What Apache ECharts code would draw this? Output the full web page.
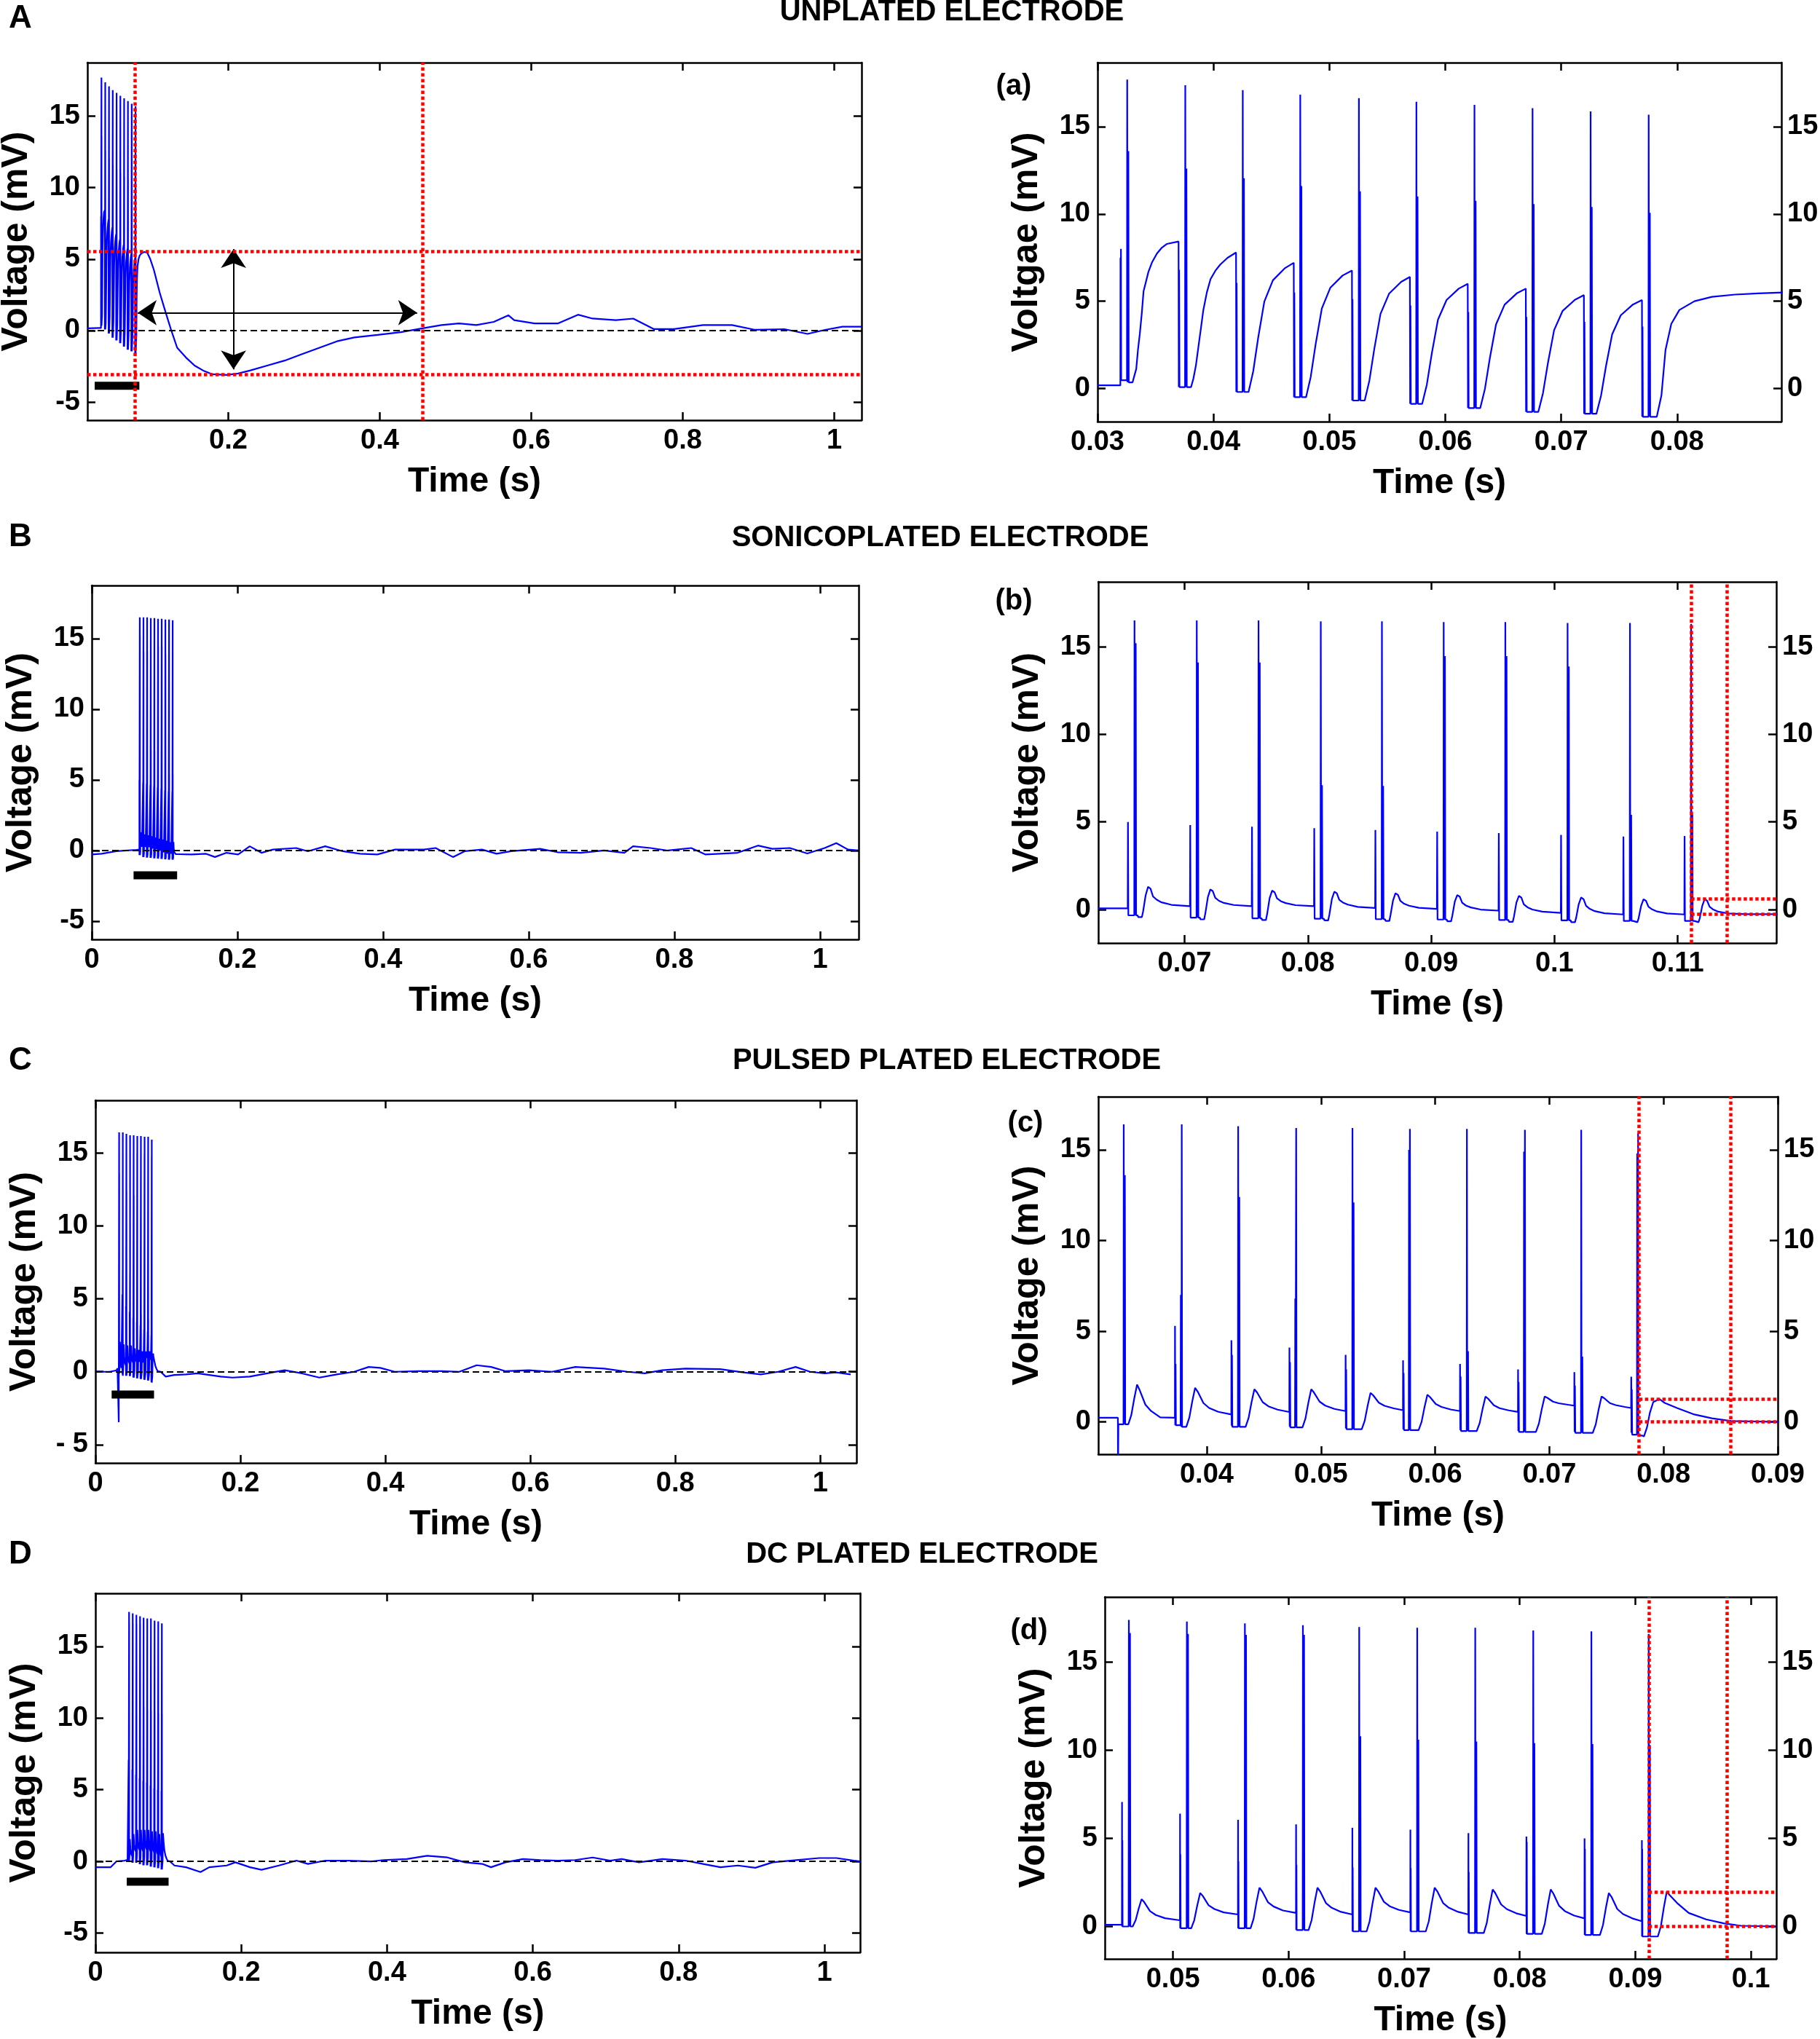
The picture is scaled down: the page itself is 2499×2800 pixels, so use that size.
<!DOCTYPE html>
<html>
<head>
<meta charset="utf-8">
<title>Electrode recordings</title>
<script src="https://cdn.jsdelivr.net/npm/echarts@6.0.0/dist/echarts.min.js"></script>
<style>
  html, body { margin: 0; padding: 0; background: #fff; }
  #chart { width: 2499px; height: 2800px; }
</style>
</head>
<body>
<div id="chart"></div>
<script>
// values: [time (s), voltage (mV)]

// --- unplated electrode ---
var preA = [[0.014, 0.16]];
var burstA = [
  [0.0300,0.18],[0.03197,0.18],[0.03198,7.5],[0.032,0.47],[0.03202,8.0],[0.03204,0.47],[0.03254,0.47],[0.03256,17.7],[0.03259,0.35],[0.03266,13.6],[0.03269,0.35],[0.03302,0.35],[0.03334,1.12],[0.03349,2.23],[0.03365,3.14],[0.03382,4.32],[0.03397,5.57],[0.03439,6.68],[0.03471,7.24],[0.03512,7.73],[0.03555,8.07],[0.03597,8.28],[0.03699,8.42],
  [0.03701,0.08],[0.03704,6.8],[0.03707,0.08],[0.03755,0.08],[0.03757,17.38],[0.0376,0.08],[0.03767,12.6],[0.0377,0.08],[0.03807,0.08],[0.03827,0.56],[0.03849,1.33],[0.0387,2.37],[0.0389,3.35],[0.03912,4.46],[0.03943,5.5],[0.03975,6.27],[0.04017,6.75],[0.04059,7.1],[0.04122,7.49],[0.04195,7.79],
  [0.04197,-0.2],[0.042,6.05],[0.04203,-0.2],[0.04251,-0.2],[0.04253,17.09],[0.04256,-0.2],[0.04263,12.05],[0.04266,-0.2],[0.04303,-0.2],[0.04343,0.98],[0.04386,2.91],[0.04439,4.98],[0.04513,6.2],[0.04618,6.9],[0.04693,7.2],
  [0.04695,-0.5],[0.04698,5.5],[0.04701,-0.5],[0.04747,-0.5],[0.04749,16.83],[0.04752,-0.5],[0.04759,11.6],[0.04762,-0.5],[0.04799,-0.5],[0.04839,0.66],[0.04882,2.55],[0.04935,4.58],[0.05009,5.78],[0.05114,6.47],[0.05195,6.76],
  [0.05197,-0.69],[0.052,5.12],[0.05203,-0.69],[0.05253,-0.69],[0.05255,16.64],[0.05258,-0.69],[0.05265,11.3],[0.05268,-0.69],[0.05305,-0.69],[0.05345,0.44],[0.05388,2.28],[0.05441,4.27],[0.05515,5.43],[0.0562,6.11],[0.05695,6.39],
  [0.05697,-0.88],[0.057,4.75],[0.05703,-0.88],[0.05749,-0.88],[0.05751,16.43],[0.05754,-0.88],[0.05761,11.0],[0.05764,-0.88],[0.05801,-0.88],[0.05841,0.22],[0.05884,2.01],[0.05937,3.94],[0.06011,5.07],[0.06116,5.72],[0.06194,6.0],
  [0.06196,-1.12],[0.06199,4.38],[0.06202,-1.12],[0.0625,-1.12],[0.06252,16.25],[0.06255,-1.12],[0.06262,10.75],[0.06265,-1.12],[0.06302,-1.12],[0.06342,-0.03],[0.06385,1.75],[0.06438,3.67],[0.06512,4.8],[0.06617,5.45],[0.06695,5.72],
  [0.06697,-1.34],[0.067,4.1],[0.06703,-1.34],[0.06751,-1.34],[0.06753,16.06],[0.06756,-1.34],[0.06763,10.56],[0.06766,-1.34],[0.06803,-1.34],[0.06843,-0.27],[0.06886,1.47],[0.06939,3.34],[0.07013,4.45],[0.07118,5.08],[0.07196,5.35],
  [0.07198,-1.45],[0.07201,3.82],[0.07204,-1.45],[0.07252,-1.45],[0.07254,15.87],[0.07257,-1.45],[0.07264,10.4],[0.07267,-1.45],[0.07304,-1.45],[0.07344,-0.41],[0.07387,1.29],[0.0744,3.11],[0.07514,4.19],[0.07619,4.81],[0.07697,5.07],
  [0.07699,-1.62],[0.07702,3.54],[0.07705,-1.62],[0.07753,-1.62],[0.07755,15.69],[0.07758,-1.62],[0.07765,10.06],[0.07768,-1.62],[0.07825,-1.62],[0.07865,-0.4],[0.079,2.2],[0.0795,3.7],[0.0802,4.5],[0.0815,5.0],[0.083,5.25],[0.085,5.38],[0.087,5.45],[0.0892,5.5]
];
var tailA = [
  [0.093,5.45],[0.097,5.0],[0.1018,4.24],[0.1095,2.65],[0.1172,1.29],[0.1248,0],[0.1325,-1.2],[0.144,-1.88],[0.1555,-2.45],[0.167,-2.8],[0.1785,-3.05],[0.1977,-3.1],[0.213,-3.0],[0.2284,-2.8],[0.2514,-2.45],[0.2744,-2.1],[0.2974,-1.65],[0.3204,-1.2],[0.3434,-0.75],[0.3664,-0.48],[0.3971,-0.3],[0.4278,-0.11],[0.4562,0.16],[0.4815,0.39],[0.5045,0.5],[0.5275,0.39],[0.5505,0.61],[0.5697,1.07],[0.5774,0.73],[0.6042,0.5],[0.6349,0.5],[0.6617,1.11],[0.6809,0.84],[0.7116,0.73],[0.7346,0.84],[0.7615,0.11],[0.7883,0.11],[0.8267,0.39],[0.865,0.39],[0.8957,0.05],[0.934,0.1],[0.9647,-0.23],[0.9877,0.05],[1.0107,0.27],[1.036,0.27]
];
var barA = [[0.0236,-3.86],[0.0826,-3.86]];
var redVA = [0.0765, 0.4562];
var redHA = [5.55, -3.08];
var arrowsA = [[[0.0804,1.25],[0.4493,1.25]], [[0.2069,5.7],[0.2069,-2.72]]];

// --- sonicoplated electrode ---
var preB = [[0,-0.28],[0.0136,-0.23],[0.0335,-0.05],[0.0614,0.05]];
var burstB = [
  [0.063,0.07],[0.06539,0.07],[0.06541,5.0],[0.06544,-0.33],[0.06592,-0.33],[0.06594,16.5],[0.06597,-0.33],[0.06604,15.2],[0.06607,-0.33],[0.06619,-0.33],[0.06624,-0.43],[0.06654,-0.43],[0.06664,-0.1],[0.06684,0.8],[0.06704,1.3],[0.06724,1.19],[0.06744,0.75],[0.06774,0.56],[0.06814,0.41],[0.06894,0.27],[0.07044,0.19],
  [0.07046,4.82],[0.07049,-0.46],[0.07097,-0.46],[0.07099,16.5],[0.07102,-0.46],[0.07109,14.1],[0.07112,-0.46],[0.07124,-0.46],[0.07129,-0.56],[0.07159,-0.56],[0.07169,-0.2],[0.07189,0.7],[0.07209,1.15],[0.07229,1.05],[0.07249,0.67],[0.07279,0.5],[0.07319,0.38],[0.07399,0.26],[0.07545,0.19],
  [0.07547,4.73],[0.0755,-0.5],[0.07598,-0.5],[0.076,16.5],[0.07603,-0.5],[0.0761,14.1],[0.07613,-0.5],[0.07625,-0.5],[0.0763,-0.6],[0.0766,-0.6],[0.0767,-0.25],[0.0769,0.65],[0.0771,1.08],[0.0773,0.99],[0.0775,0.64],[0.0778,0.48],[0.0782,0.37],[0.079,0.25],[0.0805,0.19],
  [0.08052,4.64],[0.08055,-0.52],[0.08103,-0.52],[0.08105,16.45],[0.08108,-0.52],[0.08115,7.1],[0.08118,-0.52],[0.0813,-0.52],[0.08135,-0.62],[0.08165,-0.62],[0.08175,-0.28],[0.08195,0.6],[0.08215,1.02],[0.08235,0.93],[0.08255,0.56],[0.08285,0.4],[0.08325,0.28],[0.08405,0.15],[0.08546,0.09],
  [0.08548,4.54],[0.08551,-0.55],[0.08599,-0.55],[0.08601,16.45],[0.08604,-0.55],[0.08611,7.05],[0.08614,-0.55],[0.08626,-0.55],[0.08631,-0.65],[0.08661,-0.65],[0.08671,-0.3],[0.08691,0.52],[0.08711,0.93],[0.08731,0.84],[0.08751,0.49],[0.08781,0.33],[0.08821,0.22],[0.08901,0.1],[0.09047,0.04],
  [0.09049,4.45],[0.09052,-0.57],[0.091,-0.57],[0.09102,16.4],[0.09105,-0.57],[0.09112,14.46],[0.09115,-0.57],[0.09127,-0.57],[0.09132,-0.67],[0.09162,-0.67],[0.09172,-0.35],[0.09192,0.45],[0.09212,0.83],[0.09232,0.74],[0.09252,0.39],[0.09282,0.23],[0.09322,0.12],[0.09402,0.0],[0.09547,-0.06],
  [0.09549,4.36],[0.09552,-0.6],[0.096,-0.6],[0.09602,16.4],[0.09605,-0.6],[0.09612,14.46],[0.09615,-0.6],[0.09627,-0.6],[0.09632,-0.7],[0.09662,-0.7],[0.09672,-0.4],[0.09692,0.4],[0.09712,0.78],[0.09732,0.68],[0.09752,0.3],[0.09782,0.13],[0.09822,0.0],[0.09902,-0.12],[0.10052,-0.19],
  [0.10054,4.26],[0.10057,-0.62],[0.10105,-0.62],[0.10107,16.35],[0.1011,-0.62],[0.10117,13.87],[0.1012,-0.62],[0.10132,-0.62],[0.10137,-0.72],[0.10167,-0.72],[0.10177,-0.45],[0.10197,0.3],[0.10217,0.69],[0.10237,0.59],[0.10257,0.21],[0.10287,0.04],[0.10327,-0.09],[0.10407,-0.21],[0.10558,-0.28],
  [0.1056,4.17],[0.10563,-0.65],[0.10611,-0.65],[0.10613,16.35],[0.10616,-0.65],[0.10623,5.4],[0.10626,-0.65],[0.10638,-0.65],[0.10643,-0.72],[0.10673,-0.72],[0.10683,-0.5],[0.10703,0.2],[0.10723,0.59],[0.10743,0.5],[0.10763,0.16],[0.10793,0.01],[0.10833,-0.11],[0.10913,-0.22],[0.11054,-0.28],
  [0.11056,4.2],[0.11059,-0.65],[0.11107,-0.65],[0.11109,16.3],[0.11112,-0.65],[0.11119,5.4],[0.11122,-0.65],[0.11134,-0.65],[0.11139,-0.72],[0.11169,-0.72],[0.11179,-0.5],[0.11199,0.2],[0.11219,0.6],[0.11239,0.5],[0.11259,0.16],[0.11289,0.0],[0.11329,-0.12],[0.11409,-0.22],[0.1155,-0.26],[0.1182,-0.26]
];
var tailB = [
  [0.1372,-0.28],[0.1571,-0.23],[0.1691,-0.46],[0.185,-0.16],[0.201,-0.28],[0.2169,0.3],[0.2329,-0.16],[0.2488,0.07],[0.2807,0.18],[0.2967,-0.05],[0.3206,0.3],[0.3445,-0.05],[0.3684,-0.23],[0.3923,-0.28],[0.4163,0.07],[0.4561,0.07],[0.4721,0.18],[0.496,-0.46],[0.512,-0.05],[0.5359,0.07],[0.5558,-0.23],[0.5758,-0.05],[0.6156,0.12],[0.6396,-0.12],[0.6715,-0.16],[0.7033,0.0],[0.7313,-0.16],[0.7432,0.3],[0.7671,0.18],[0.7911,0.0],[0.823,0.18],[0.8429,-0.28],[0.8868,-0.16],[0.9147,0.35],[0.9346,0.12],[0.9585,0.18],[0.9825,-0.21],[1.0064,0.18],[1.0223,0.53],[1.0383,0.07],[1.0526,0.0]
];
var barB = [[0.0574,-1.76],[0.1172,-1.76]];
var redVB = [0.1111, 0.1140];
var redHB = [0.63, -0.26];

// --- pulsed plated electrode ---
var preC = [[0,0.0],[0.02,0.0],[0.029,0.1]];
var burstC = [
  [0.0305,0.23],[0.03222,0.23],[0.03223,-3.45],[0.03226,-0.13],[0.03271,-0.13],[0.03273,16.4],[0.03276,-0.13],[0.03283,13.6],[0.03286,-0.13],[0.03313,-0.13],[0.03339,0.37],[0.03365,1.29],[0.0339,2.06],[0.03413,1.75],[0.03463,0.95],[0.03513,0.6],[0.03593,0.25],[0.03721,0.23],
  [0.03722,5.3],[0.03724,-0.18],[0.03727,3.2],[0.0373,-0.18],[0.03771,-0.18],[0.03773,7.0],[0.03776,-0.18],[0.03779,-0.27],[0.03781,16.4],[0.03784,-0.27],[0.03821,-0.27],[0.03847,0.23],[0.03873,1.13],[0.03898,1.88],[0.03921,1.67],[0.03971,1.04],[0.04021,0.77],[0.04101,0.56],[0.04215,0.41],
  [0.04216,4.5],[0.04218,-0.2],[0.04221,3.7],[0.04224,-0.27],[0.04273,-0.27],[0.04275,16.3],[0.04278,-0.27],[0.04285,12.4],[0.04288,-0.27],[0.0434,-0.27],[0.04366,0.21],[0.04392,1.08],[0.04417,1.8],[0.0444,1.63],[0.0449,1.09],[0.0454,0.86],[0.0462,0.68],[0.04723,0.55],
  [0.04724,4.1],[0.04726,-0.25],[0.04729,3.3],[0.04732,-0.3],[0.04773,-0.3],[0.04775,6.8],[0.04778,-0.3],[0.04781,-0.3],[0.04783,16.2],[0.04786,-0.3],[0.04838,-0.3],[0.04864,0.18],[0.0489,1.07],[0.04915,1.8],[0.04938,1.63],[0.04988,1.12],[0.05038,0.9],[0.05118,0.72],[0.05215,0.6],
  [0.05216,3.7],[0.05218,-0.35],[0.05221,2.9],[0.05224,-0.4],[0.05274,-0.4],[0.05276,16.2],[0.05279,-0.4],[0.05286,12.1],[0.05289,-0.4],[0.05357,-0.4],[0.05383,0.06],[0.05409,0.9],[0.05434,1.6],[0.05457,1.47],[0.05507,1.06],[0.05557,0.89],[0.05637,0.75],[0.05718,0.65],
  [0.05719,3.4],[0.05721,-0.4],[0.05724,2.7],[0.05727,-0.45],[0.05769,-0.45],[0.05771,15.0],[0.05774,-0.45],[0.05777,-0.45],[0.05779,16.15],[0.05782,-0.45],[0.05855,-0.45],[0.05881,0.0],[0.05907,0.82],[0.05932,1.5],[0.05955,1.37],[0.06005,0.99],[0.06055,0.83],[0.06135,0.69],[0.06217,0.6],
  [0.06218,3.2],[0.0622,-0.45],[0.06223,2.5],[0.06226,-0.5],[0.06276,-0.5],[0.06278,16.15],[0.06281,-0.5],[0.06288,3.9],[0.06291,-0.5],[0.06364,-0.5],[0.0639,-0.06],[0.06416,0.74],[0.06441,1.4],[0.06464,1.28],[0.06514,0.92],[0.06564,0.76],[0.06644,0.64],[0.06725,0.55],
  [0.06726,2.9],[0.06728,-0.5],[0.06731,2.2],[0.06734,-0.55],[0.06776,-0.55],[0.06778,14.9],[0.06781,-0.55],[0.06784,-0.55],[0.06786,16.1],[0.06789,-0.55],[0.06882,-0.55],[0.06908,-0.1],[0.06934,0.72],[0.06959,1.4],[0.06982,1.33],[0.07032,1.12],[0.07082,1.03],[0.07162,0.95],[0.07218,0.9],
  [0.07219,2.75],[0.07221,-0.55],[0.07224,2.0],[0.07227,-0.6],[0.07277,-0.6],[0.07279,16.1],[0.07282,-0.6],[0.07289,3.6],[0.07292,-0.6],[0.0738,-0.6],[0.07406,-0.14],[0.07432,0.7],[0.07457,1.4],[0.0748,1.31],[0.0753,1.04],[0.0758,0.93],[0.0766,0.83],[0.07716,0.77],
  [0.07717,2.5],[0.07719,-0.6],[0.07722,1.8],[0.07725,-0.7],[0.07767,-0.7],[0.07769,14.8],[0.07772,-0.7],[0.07775,-0.7],[0.07777,15.9],[0.0778,-0.75],[0.07815,-0.75],[0.07828,-0.8],[0.07855,-0.3],[0.0788,0.5],[0.0791,1.1],[0.07965,1.26],[0.0801,1.05],[0.08118,0.77],[0.0827,0.41],[0.08423,0.2],[0.08591,0.05],[0.0901,0.0]
];
var tailC = [
  [0.097,-0.33],[0.109,-0.22],[0.125,-0.18],[0.141,-0.11],[0.157,-0.22],[0.173,-0.33],[0.189,-0.4],[0.213,-0.33],[0.237,-0.11],[0.261,0.11],[0.285,-0.11],[0.309,-0.4],[0.333,-0.18],[0.357,0.0],[0.377,0.33],[0.393,0.27],[0.413,0.0],[0.446,0.04],[0.478,0.04],[0.502,0.0],[0.526,0.45],[0.546,0.33],[0.566,0.04],[0.598,0.11],[0.63,0.0],[0.662,0.33],[0.702,0.22],[0.734,0.0],[0.758,-0.11],[0.782,0.11],[0.814,0.22],[0.862,0.18],[0.894,-0.04],[0.918,-0.18],[0.942,0.0],[0.966,0.33],[0.986,0.0],[1.006,-0.11],[1.022,-0.04],[1.042,-0.18]
];
var barC = [[0.0224,-1.56],[0.0809,-1.56]];
var redVC = [0.07786, 0.0859];
var redHC = [1.26, 0];

// --- DC plated electrode ---
var preD = [[0,-0.41],[0.021,-0.41],[0.029,0.0],[0.04,0.05]];
var burstD = [
  [0.0441,0.1],[0.04558,0.1],[0.04559,7.07],[0.0456,0.0],[0.04562,4.9],[0.04564,0.0],[0.04616,0.0],[0.04618,17.4],[0.04621,0.0],[0.04628,16.65],[0.04631,0.0],[0.04651,0.0],[0.04677,0.36],[0.04703,1.01],[0.04728,1.55],[0.04751,1.38],[0.04801,0.87],[0.04851,0.65],[0.04931,0.47],[0.0506,0.35],
  [0.05061,6.4],[0.05062,-0.1],[0.05064,4.1],[0.05066,-0.1],[0.05118,-0.1],[0.0512,17.3],[0.05123,-0.1],[0.0513,16.6],[0.05133,-0.1],[0.05158,-0.1],[0.05184,0.36],[0.0521,1.2],[0.05235,1.9],[0.05258,1.73],[0.05308,1.2],[0.05358,0.99],[0.05438,0.8],[0.05562,0.68],
  [0.05563,6.05],[0.05564,-0.1],[0.05566,3.7],[0.05568,-0.1],[0.0562,-0.1],[0.05622,17.2],[0.05625,-0.1],[0.05632,16.55],[0.05635,-0.1],[0.05671,-0.1],[0.05697,0.43],[0.05723,1.4],[0.05748,2.2],[0.05771,2.0],[0.05821,1.38],[0.05871,1.13],[0.05951,0.91],[0.06064,0.77],
  [0.06065,5.8],[0.06066,-0.2],[0.06068,3.5],[0.0607,-0.2],[0.06122,-0.2],[0.06124,17.1],[0.06127,-0.2],[0.06134,16.55],[0.06137,-0.2],[0.06173,-0.2],[0.06199,0.35],[0.06225,1.36],[0.0625,2.2],[0.06273,1.99],[0.06323,1.33],[0.06373,1.06],[0.06453,0.83],[0.06551,0.68],
  [0.06552,5.6],[0.06553,-0.28],[0.06555,3.35],[0.06557,-0.28],[0.06609,-0.28],[0.06611,17.0],[0.06614,-0.28],[0.06621,10.8],[0.06624,-0.28],[0.06675,-0.28],[0.06701,0.29],[0.06727,1.33],[0.06752,2.2],[0.06775,2.0],[0.06825,1.4],[0.06875,1.15],[0.06955,0.94],[0.07053,0.8],
  [0.07054,5.5],[0.07055,-0.28],[0.07057,3.3],[0.07059,-0.28],[0.07111,-0.28],[0.07113,16.95],[0.07116,-0.28],[0.07123,10.6],[0.07126,-0.28],[0.07187,-0.28],[0.07213,0.29],[0.07239,1.33],[0.07264,2.2],[0.07287,1.99],[0.07337,1.33],[0.07387,1.06],[0.07467,0.83],[0.07555,0.68],
  [0.07556,5.3],[0.07557,-0.37],[0.07559,3.1],[0.07561,-0.37],[0.07613,-0.37],[0.07615,16.95],[0.07618,-0.37],[0.07625,10.5],[0.07628,-0.37],[0.07689,-0.37],[0.07715,0.2],[0.07741,1.24],[0.07766,2.1],[0.07789,1.89],[0.07839,1.25],[0.07889,0.98],[0.07969,0.75],[0.08057,0.6],
  [0.08058,5.1],[0.08059,-0.42],[0.08061,4.8],[0.08063,-0.42],[0.08115,-0.42],[0.08117,16.8],[0.0812,-0.42],[0.08127,10.4],[0.0813,-0.42],[0.08191,-0.42],[0.08217,0.16],[0.08243,1.22],[0.08268,2.1],[0.08291,1.87],[0.08341,1.17],[0.08391,0.87],[0.08471,0.62],[0.0856,0.46],
  [0.08561,5.0],[0.08562,-0.48],[0.08564,4.4],[0.08566,-0.48],[0.08618,-0.48],[0.0862,16.75],[0.08623,-0.48],[0.0863,10.35],[0.08633,-0.48],[0.08694,-0.48],[0.0872,0.07],[0.08746,1.07],[0.08771,1.9],[0.08794,1.68],[0.08844,0.99],[0.08894,0.7],[0.08974,0.46],[0.09056,0.3],
  [0.09057,4.9],[0.09058,-0.57],[0.0906,4.4],[0.09062,-0.57],[0.09114,-0.57],[0.09116,16.6],[0.09119,-0.57],[0.09126,10.3],[0.09129,-0.57],[0.09195,-0.57],[0.09221,0.0],[0.09247,1.08],[0.09272,1.97],[0.09295,1.8],[0.09362,1.33],[0.09462,0.77],[0.09613,0.4],[0.09764,0.18],[0.09915,0.04],[0.1022,0.0]
];
var tailD = [
  [0.1084,-0.29],[0.1243,-0.41],[0.1442,-0.75],[0.1562,-0.41],[0.1801,-0.29],[0.192,-0.07],[0.212,-0.41],[0.2279,-0.59],[0.2518,-0.29],[0.2757,0.05],[0.2916,-0.18],[0.3155,0.05],[0.3474,0.05],[0.3793,0.0],[0.3952,0.09],[0.4271,0.16],[0.455,0.39],[0.4829,0.27],[0.5068,-0.07],[0.5307,-0.18],[0.5426,-0.41],[0.5625,-0.07],[0.5865,0.16],[0.6104,0.09],[0.6343,0.05],[0.6582,0.09],[0.6821,0.27],[0.706,0.05],[0.7219,0.16],[0.7458,-0.07],[0.7777,0.16],[0.8096,0.05],[0.8335,-0.18],[0.8574,-0.41],[0.8813,-0.29],[0.9052,-0.45],[0.9291,-0.07],[0.953,0.05],[0.9928,0.23],[1.0167,0.23],[1.0406,0.05],[1.0494,0.0]
];
var barD = [[0.043,-1.42],[0.1004,-1.42]];
var redVD = [0.09116, 0.09796];
var redHD = [1.97, 0];

// tick values
var timeTicksA = [0.2, 0.4, 0.6, 0.8, 1];
var timeTicksFull = [0, 0.2, 0.4, 0.6, 0.8, 1];
var timeTicks_a = [0.03, 0.04, 0.05, 0.06, 0.07, 0.08];
var timeTicks_b = [0.07, 0.08, 0.09, 0.1, 0.11];
var timeTicks_c = [0.04, 0.05, 0.06, 0.07, 0.08, 0.09];
var timeTicks_d = [0.05, 0.06, 0.07, 0.08, 0.09, 0.1];
var voltTicksFull = [-5, 0, 5, 10, 15];
var voltTicksZoom = [0, 5, 10, 15];

var rowLetters = ['A', 'B', 'C', 'D'];
var rowTitles = ['UNPLATED ELECTRODE', 'SONICOPLATED ELECTRODE', 'PULSED PLATED ELECTRODE', 'DC PLATED ELECTRODE'];

var FONT = '"Liberation Sans", Arial, Helvetica, sans-serif';

var fmt = function (v) { return String(Math.round(v * 1000) / 1000); };

var panels = [
  { box: [120, 86, 1063, 491], x: [0.014, 1.036], y: [-6.27, 18.75], xTicks: timeTicksA, yTicks: voltTicksFull,
    trace: preA.concat(burstA, tailA), zero: true, bar: barA, redV: redVA, redH: redHA, arrows: arrowsA, yTitle: 'Voltage (mV)' },
  { box: [1507, 86, 939, 493], x: [0.03, 0.089], y: [-1.9, 18.67], xTicks: timeTicks_a, yTicks: voltTicksZoom, right: true,
    trace: burstA, yTitle: 'Voltgae (mV)', tag: '(a)', tagPos: [1392, 119] },
  { box: [126, 804, 1053, 486], x: [0, 1.053], y: [-6.29, 18.76], xTicks: timeTicksFull, yTicks: voltTicksFull,
    trace: preB.concat(burstB, tailB), zero: true, bar: barB, yTitle: 'Voltage (mV)' },
  { box: [1508, 799, 931, 496], x: [0.063, 0.118], y: [-1.91, 18.7], xTicks: timeTicks_b, yTicks: voltTicksZoom, right: true,
    trace: burstB, redV: redVB, redH: redHB, redFrom: redVB[0], yTitle: 'Voltage (mV)', tag: '(b)', tagPos: [1392, 826] },
  { box: [131, 1511, 1045, 498], x: [0, 1.05], y: [-6.25, 18.6], xTicks: timeTicksFull, yTicks: voltTicksFull,
    trace: preC.concat(burstC, tailC), zero: true, bar: barC, yTitle: 'Voltage (mV)', spacedMinus: true },
  { box: [1508, 1506, 933, 491], x: [0.0305, 0.09], y: [-1.78, 17.93], xTicks: timeTicks_c, yTicks: voltTicksZoom, right: true,
    trace: burstC, redV: redVC, redH: redHC, redFrom: redVC[0], yTitle: 'Voltage (mV)', tag: '(c)', tagPos: [1408, 1543] },
  { box: [131, 2188, 1050, 493], x: [0, 1.049], y: [-6.35, 18.7], xTicks: timeTicksFull, yTicks: voltTicksFull,
    trace: preD.concat(burstD, tailD), zero: true, bar: barD, yTitle: 'Voltage (mV)' },
  { box: [1517, 2193, 922, 497], x: [0.0441, 0.1022], y: [-1.84, 18.7], xTicks: timeTicks_d, yTicks: voltTicksZoom, right: true,
    trace: burstD, redV: redVD, redH: redHD, redFrom: redVD[0], yTitle: 'Voltage (mV)', tag: '(d)', tagPos: [1413, 2240] }
];

var labelStyle = { color: '#000', fontSize: 38, fontWeight: 'bold', fontFamily: FONT };
var lineBlack = { color: '#000', width: 2.5 };

function makeAxis(gi, pos, range, ticks, showLabel, margin, formatter) {
  return {
    type: 'value', gridIndex: gi, position: pos, min: range[0], max: range[1],
    axisLine: { show: true, onZero: false, lineStyle: lineBlack },
    axisTick: { show: true, inside: true, length: 11, customValues: ticks, lineStyle: lineBlack },
    axisLabel: Object.assign({ show: showLabel, customValues: ticks, margin: margin, formatter: formatter }, labelStyle),
    splitLine: { show: false },
    axisPointer: { show: false }
  };
}

// markLine rounds values to 'precision' digits, keep them exact
function marker(data) {
  return { silent: true, animation: false, precision: 6, symbol: 'none', label: { show: false }, emphasis: { disabled: true }, data: data };
}

var grids = [], xAxes = [], yAxes = [], series = [], graphics = [];

panels.forEach(function (p, i) {
  grids.push({ left: p.box[0], top: p.box[1], width: p.box[2], height: p.box[3], containLabel: false, outerBoundsMode: 'none' });
  var yFmt = p.spacedMinus ? function (v) { return v < 0 ? '- ' + Math.abs(v) : fmt(v); } : fmt;
  xAxes.push(makeAxis(i, 'bottom', p.x, p.xTicks, true, 10, fmt));
  xAxes.push(makeAxis(i, 'top', p.x, p.xTicks, false, 10, fmt));
  yAxes.push(makeAxis(i, 'left', p.y, p.yTicks, true, 10, yFmt));
  yAxes.push(makeAxis(i, 'right', p.y, p.yTicks, !!p.right, 8, yFmt));

  var ax = { xAxisIndex: 2 * i, yAxisIndex: 2 * i };

  // dashed zero reference and arrows sit under the trace
  var under = [];
  if (p.zero) {
    under.push({ yAxis: 0, symbol: 'none', lineStyle: { color: '#000', width: 2, type: [9, 5] } });
  }
  (p.arrows || []).forEach(function (a) {
    under.push([
      { coord: a[0], symbol: 'arrow', symbolSize: 26, lineStyle: { color: '#000', width: 2, type: 'solid' } },
      { coord: a[1], symbol: 'arrow', symbolSize: 26 }
    ]);
  });
  if (under.length) {
    series.push(Object.assign({ type: 'line', data: [], z: 1, silent: true, markLine: marker(under) }, ax));
  }

  series.push(Object.assign({
    type: 'line', data: p.trace, z: 2, symbol: 'none', showSymbol: false, silent: true,
    lineStyle: { color: '#0000ff', width: 2.2 }
  }, ax));

  if (p.bar) {
    series.push(Object.assign({
      type: 'line', data: p.bar, z: 3, symbol: 'none', showSymbol: false, silent: true,
      lineStyle: { color: '#000', width: 11, cap: 'butt' }
    }, ax));
  }

  if (p.redV) {
    var red = { color: '#ff0000', width: 4.5, type: [4.5, 3.5] };
    var marks = [];
    p.redV.forEach(function (v) { marks.push({ xAxis: v, lineStyle: red }); });
    p.redH.forEach(function (h) {
      if (p.redFrom == null) marks.push({ yAxis: h, lineStyle: red });
      else marks.push([{ coord: [p.redFrom, h], lineStyle: red }, { coord: [p.x[1], h] }]);
    });
    series.push(Object.assign({ type: 'line', data: [], z: 5, silent: true, markLine: marker(marks) }, ax));
  }

  var cx = p.box[0] + p.box[2] / 2;
  graphics.push({ type: 'text', x: p.box[0] - 97, y: p.box[1] + p.box[3] / 2, rotation: Math.PI / 2, silent: true,
    style: { text: p.yTitle, font: 'bold 50px ' + FONT, fill: '#000', align: 'center', verticalAlign: 'middle' } });
  graphics.push({ type: 'text', x: cx, y: p.box[1] + p.box[3] + 85, silent: true,
    style: { text: 'Time (s)', font: 'bold 48px ' + FONT, fill: '#000', align: 'center', verticalAlign: 'middle' } });
  if (p.tag) {
    graphics.push({ type: 'text', x: p.tagPos[0], y: p.tagPos[1], silent: true,
      style: { text: p.tag, font: 'bold 40px ' + FONT, fill: '#000', align: 'center', verticalAlign: 'middle' } });
  }
});

var letterY = [26, 738, 1457, 2135];
var titlePos = [[1307, 17], [1291, 739], [1300, 1457], [1266, 2135]];
rowLetters.forEach(function (l, r) {
  graphics.push({ type: 'text', x: 28, y: letterY[r], silent: true,
    style: { text: l, font: 'bold 44px ' + FONT, fill: '#000', align: 'center', verticalAlign: 'middle' } });
  graphics.push({ type: 'text', x: titlePos[r][0], y: titlePos[r][1], silent: true,
    style: { text: rowTitles[r], font: 'bold 40px ' + FONT, fill: '#000', align: 'center', verticalAlign: 'middle' } });
});

var chart = echarts.init(document.getElementById('chart'), null, { renderer: 'canvas' });
chart.setOption({
  backgroundColor: '#ffffff',
  animation: false,
  grid: grids,
  xAxis: xAxes,
  yAxis: yAxes,
  series: series,
  graphic: graphics
});
</script>
</body>
</html>
